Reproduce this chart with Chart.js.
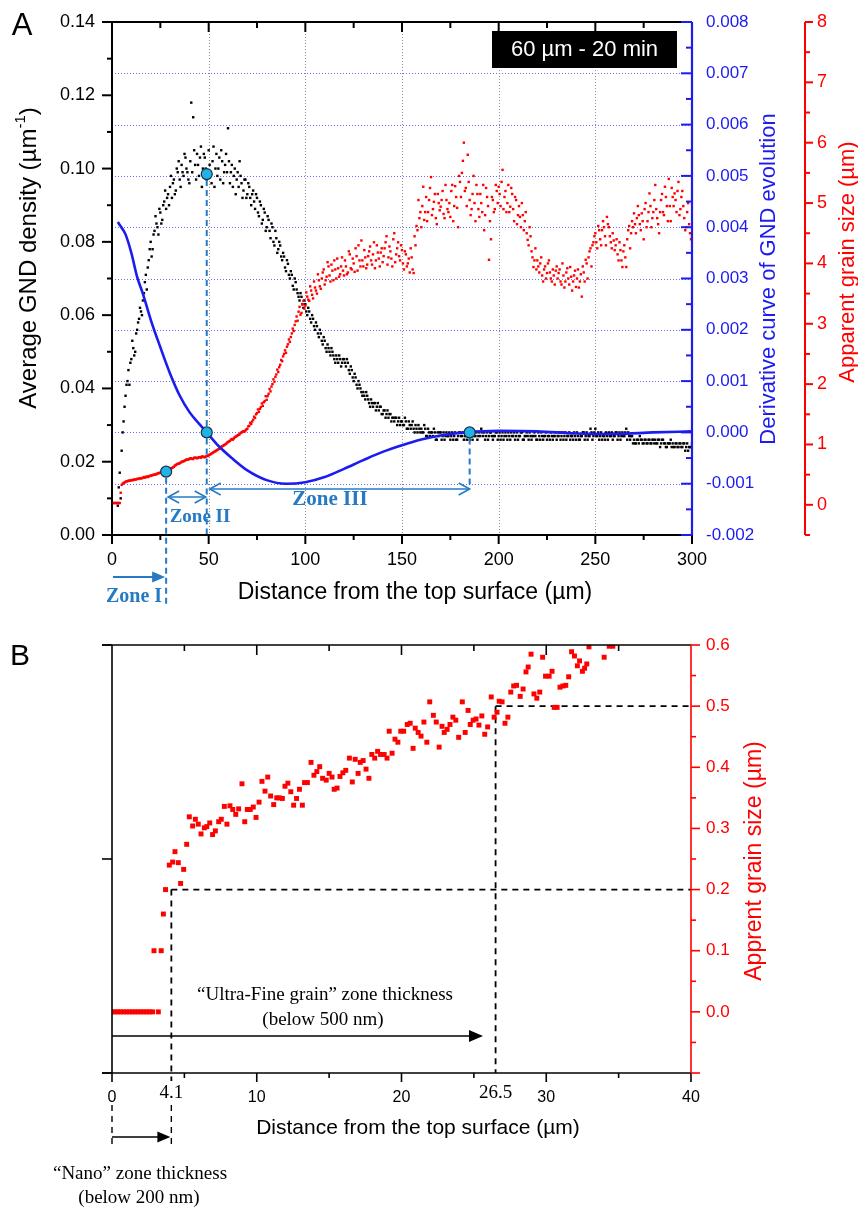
<!DOCTYPE html>
<html><head><meta charset="utf-8">
<script src="https://cdn.jsdelivr.net/npm/chart.js@4.4.1/dist/chart.umd.min.js"></script>
<style>
html,body{margin:0;padding:0;background:#fff;width:858px;height:1207px;overflow:hidden}
#wrap{position:relative;width:858px;height:1207px}
canvas{position:absolute;left:0}
#cA{top:0}
#cB{top:620px}
</style></head><body>
<div id="wrap"><canvas id="cA" width="858" height="620"></canvas><canvas id="cB" width="858" height="587"></canvas></div>
<script>
// ================= Panel A data =================
const distanceA = [0,1,2,3,4,5,6,7,8,9,10,11,12,13,14,15,16,17,18,19,20,21,22,23,24,25,26,27,28,29,30,31,32,33,34,35,36,37,38,39,40,41,42,43,44,45,46,47,48,49,50,51,52,53,54,55,56,57,58,59,60,61,62,63,64,65,66,67,68,69,70,71,72,73,74,75,76,77,78,79,80,81,82,83,84,85,86,87,88,89,90,91,92,93,94,95,96,97,98,99,100,101,102,103,104,105,106,107,108,109,110,111,112,113,114,115,116,117,118,119,120,121,122,123,124,125,126,127,128,129,130,131,132,133,134,135,136,137,138,139,140,141,142,143,144,145,146,147,148,149,150,151,152,153,154,155,156,157,158,159,160,161,162,163,164,165,166,167,168,169,170,171,172,173,174,175,176,177,178,179,180,181,182,183,184,185,186,187,188,189,190,191,192,193,194,195,196,197,198,199,200,201,202,203,204,205,206,207,208,209,210,211,212,213,214,215,216,217,218,219,220,221,222,223,224,225,226,227,228,229,230,231,232,233,234,235,236,237,238,239,240,241,242,243,244,245,246,247,248,249,250,251,252,253,254,255,256,257,258,259,260,261,262,263,264,265,266,267,268,269,270,271,272,273,274,275,276,277,278,279,280,281,282,283,284,285,286,287,288,289,290,291,292,293,294,295,296,297,298,299,300];
const distanceHalf = [0.5,1.5,2.5,3.5,4.5,5.5,6.5,7.5,8.5,9.5,10.5,11.5,12.5,13.5,14.5,15.5,16.5,17.5,18.5,19.5,20.5,21.5,22.5,23.5,24.5,25.5,26.5,27.5,28.5,29.5,30.5,31.5,32.5,33.5,34.5,35.5,36.5,37.5,38.5,39.5,40.5,41.5,42.5,43.5,44.5,45.5,46.5,47.5,48.5,49.5,50.5,51.5,52.5,53.5,54.5,55.5,56.5,57.5,58.5,59.5,60.5,61.5,62.5,63.5,64.5,65.5,66.5,67.5,68.5,69.5,70.5,71.5,72.5,73.5,74.5,75.5,76.5,77.5,78.5,79.5,80.5,81.5,82.5,83.5,84.5,85.5,86.5,87.5,88.5,89.5,90.5,91.5,92.5,93.5,94.5,95.5,96.5,97.5,98.5,99.5,100.5,101.5,102.5,103.5,104.5,105.5,106.5,107.5,108.5,109.5,110.5,111.5,112.5,113.5,114.5,115.5,116.5,117.5,118.5,119.5,120.5,121.5,122.5,123.5,124.5,125.5,126.5,127.5,128.5,129.5,130.5,131.5,132.5,133.5,134.5,135.5,136.5,137.5,138.5,139.5,140.5,141.5,142.5,143.5,144.5,145.5,146.5,147.5,148.5,149.5,150.5,151.5,152.5,153.5,154.5,155.5,156.5,157.5,158.5,159.5,160.5,161.5,162.5,163.5,164.5,165.5,166.5,167.5,168.5,169.5,170.5,171.5,172.5,173.5,174.5,175.5,176.5,177.5,178.5,179.5,180.5,181.5,182.5,183.5,184.5,185.5,186.5,187.5,188.5,189.5,190.5,191.5,192.5,193.5,194.5,195.5,196.5,197.5,198.5,199.5,200.5,201.5,202.5,203.5,204.5,205.5,206.5,207.5,208.5,209.5,210.5,211.5,212.5,213.5,214.5,215.5,216.5,217.5,218.5,219.5,220.5,221.5,222.5,223.5,224.5,225.5,226.5,227.5,228.5,229.5,230.5,231.5,232.5,233.5,234.5,235.5,236.5,237.5,238.5,239.5,240.5,241.5,242.5,243.5,244.5,245.5,246.5,247.5,248.5,249.5,250.5,251.5,252.5,253.5,254.5,255.5,256.5,257.5,258.5,259.5,260.5,261.5,262.5,263.5,264.5,265.5,266.5,267.5,268.5,269.5,270.5,271.5,272.5,273.5,274.5,275.5,276.5,277.5,278.5,279.5,280.5,281.5,282.5,283.5,284.5,285.5,286.5,287.5,288.5,289.5,290.5,291.5,292.5,293.5,294.5,295.5,296.5,297.5,298.5,299.5];

const gndDensity = [
null,null,null,0.008,0.017,0.023,0.031,0.038,0.042,0.041,
0.048,0.051,0.050,0.056,0.059,0.061,0.064,0.069,0.067,0.075,
0.080,0.078,0.083,0.085,0.082,0.088,0.086,0.091,0.089,0.093,
0.095,0.092,0.097,0.094,0.099,0.097,0.101,0.098,0.103,0.099,
0.096,0.118,0.114,0.101,0.104,0.098,0.106,0.100,0.103,0.097,
0.105,0.099,0.102,0.095,0.104,0.100,0.097,0.102,0.099,0.104,
0.111,0.096,0.101,0.098,0.093,0.099,0.102,0.096,0.094,0.097,
0.093,0.095,0.090,0.094,0.089,0.092,0.087,0.090,0.086,0.088,
0.084,0.086,0.081,0.084,0.079,0.081,0.078,0.079,0.075,0.076,
0.072,0.074,0.070,0.071,0.067,0.069,0.066,0.064,0.065,0.062,
0.063,0.060,0.061,0.058,0.059,0.056,0.057,0.054,0.055,0.052,
0.053,0.050,0.051,0.049,0.050,0.048,0.049,0.047,0.048,0.047,
0.048,0.046,0.047,0.044,0.045,0.042,0.043,0.040,0.041,0.039,
0.039,0.037,0.038,0.036,0.037,0.035,0.036,0.035,0.034,0.035,
0.033,0.034,0.033,0.032,0.033,0.032,0.031,0.032,0.031,0.030,
0.031,0.030,0.031,0.029,0.030,0.030,0.029,0.030,0.028,0.029,
0.029,0.028,0.029,0.027,0.028,0.028,0.027,0.028,0.026,0.027,
0.028,0.027,0.026,0.028,0.027,0.026,0.028,0.027,0.026,0.027,
0.028,0.027,0.026,0.027,0.028,0.026,0.027,0.028,0.027,0.026,
0.028,0.029,0.027,0.026,0.028,0.027,0.028,0.026,0.027,0.028,
0.027,0.026,0.028,0.027,0.027,0.028,0.026,0.027,0.028,0.027,
0.026,0.027,0.028,0.026,0.027,0.027,0.028,0.026,0.027,0.027,
0.026,0.027,0.028,0.026,0.027,0.026,0.027,0.028,0.026,0.027,
0.026,0.027,0.026,0.028,0.027,0.026,0.027,0.026,0.027,0.028,
0.026,0.027,0.026,0.027,0.028,0.027,0.026,0.027,0.028,0.027,
0.029,0.027,0.026,0.028,0.027,0.026,0.027,0.028,0.027,0.026,
0.027,0.028,0.027,0.026,0.028,0.027,0.029,0.028,0.026,0.027,
0.026,0.025,0.026,0.027,0.026,0.025,0.026,0.025,0.026,0.025,
0.026,0.026,0.025,0.026,0.025,0.026,0.025,0.024,0.025,0.026,
0.025,0.024,0.025,0.024,0.025,0.024,0.025,0.024,0.023,0.024,
0.025];

const gndDensityHalf = [
null,null,null,0.013,0.010,0.028,0.035,0.041,0.045,0.047,
0.053,0.049,0.055,0.058,0.062,0.060,0.066,0.071,0.073,0.078,
0.076,0.082,0.087,0.084,0.089,0.085,0.090,0.094,0.092,0.090,
0.098,0.096,0.093,0.100,0.102,0.095,0.099,0.104,0.100,0.097,
0.102,0.099,0.105,0.097,0.101,0.103,0.095,0.104,0.100,0.098,
0.101,0.096,0.106,0.100,0.098,0.103,0.105,0.096,0.101,0.099,
0.102,0.099,0.095,0.100,0.097,0.095,0.098,0.092,0.097,0.092,
0.096,0.092,0.093,0.091,0.093,0.088,0.091,0.085,0.089,0.083,
0.087,0.083,0.085,0.080,0.083,0.077,0.080,0.076,0.077,0.073,
0.075,0.071,0.072,0.068,0.070,0.067,0.065,0.066,0.063,0.064,
0.061,0.062,0.059,0.060,0.057,0.058,0.055,0.056,0.053,0.054,
0.051,0.052,0.050,0.051,0.049,0.047,0.048,0.049,0.046,0.048,
0.047,0.048,0.045,0.046,0.043,0.044,0.041,0.042,0.040,0.038,
0.038,0.039,0.037,0.035,0.036,0.036,0.034,0.036,0.035,0.033,
0.034,0.032,0.034,0.033,0.031,0.032,0.032,0.030,0.032,0.031,
0.030,0.032,0.029,0.031,0.029,0.031,0.028,0.029,0.030,0.028,
0.028,0.030,0.027,0.029,0.027,0.028,0.029,0.026,0.028,0.028,
0.026,0.028,0.027,0.027,0.028,0.027,0.026,0.028,0.026,0.028,
0.027,0.028,0.027,0.026,0.027,0.028,0.026,0.027,0.028,0.027,
0.027,0.028,0.028,0.027,0.026,0.028,0.027,0.027,0.028,0.026,
0.028,0.027,0.026,0.028,0.026,0.027,0.028,0.027,0.026,0.028,
0.027,0.028,0.026,0.027,0.028,0.026,0.027,0.027,0.028,0.026,
0.028,0.026,0.027,0.027,0.028,0.027,0.026,0.027,0.027,0.028,
0.027,0.028,0.027,0.026,0.028,0.027,0.028,0.027,0.026,0.027,
0.028,0.026,0.027,0.028,0.026,0.028,0.027,0.029,0.026,0.028,
0.027,0.028,0.027,0.026,0.027,0.028,0.026,0.027,0.028,0.027,
0.028,0.026,0.028,0.027,0.027,0.028,0.026,0.027,0.027,0.025,
0.025,0.026,0.025,0.026,0.025,0.026,0.025,0.026,0.025,0.026,
0.025,0.025,0.026,0.024,0.026,0.025,0.024,0.025,0.025,0.024,
0.024,0.025,0.024,0.025,0.024,0.025,0.023,0.025,0.024,0.024];

const grainSizeA = [
0.03,0.03,0.03,0.03,0.03,0.33,0.36,0.38,0.39,0.40,
0.41,0.41,0.42,0.43,0.43,0.44,0.45,0.45,0.47,0.47,
0.48,0.49,0.50,0.51,0.52,0.53,0.54,0.55,0.55,0.57,
0.59,0.61,0.63,0.66,0.68,0.69,0.71,0.72,0.74,0.75,
0.76,0.77,0.76,0.78,0.77,0.79,0.78,0.80,0.79,0.81,
0.82,0.84,0.86,0.88,0.90,0.92,0.94,0.97,0.99,1.01,
1.04,1.06,1.09,1.10,1.13,1.15,1.17,1.20,1.22,1.23,
1.26,1.31,1.34,1.41,1.44,1.52,1.54,1.62,1.64,1.72,
1.74,1.84,1.88,2.00,2.04,2.16,2.20,2.32,2.38,2.50,
2.52,2.66,2.70,2.84,2.88,3.04,3.05,3.28,3.18,3.38,
3.30,3.45,3.38,3.55,3.42,3.60,3.50,3.72,3.58,3.85,
3.65,3.78,3.95,3.70,3.88,4.05,3.75,3.92,3.82,4.10,
3.80,3.95,3.85,4.15,3.90,4.00,4.25,3.88,4.05,4.38,
3.95,4.10,3.98,4.20,4.05,4.15,3.92,4.30,4.08,4.18,
4.02,4.25,4.45,4.10,4.20,3.95,4.50,4.15,4.35,4.05,
4.22,3.90,4.15,4.00,3.85,4.10,3.84,4.30,4.55,4.75,
4.60,5.27,4.85,4.70,5.05,5.43,4.90,5.15,4.65,5.00,
4.94,5.20,4.75,5.05,4.85,4.77,5.30,4.95,5.10,4.60,
5.35,5.50,6.00,5.25,5.80,5.05,4.90,5.45,4.70,5.15,
4.77,5.00,5.30,4.80,5.10,4.06,4.40,5.05,4.90,5.20,
5.27,4.95,5.55,5.10,4.85,5.30,4.94,5.15,4.70,5.05,
4.80,4.77,5.00,4.55,4.85,4.39,4.60,4.20,3.94,4.25,
4.05,3.85,4.10,3.70,3.95,3.84,4.05,3.75,3.90,3.65,
3.95,3.84,3.70,4.00,3.60,3.85,3.75,3.94,3.55,3.80,
3.61,3.90,3.70,3.45,3.85,4.06,3.75,4.20,3.95,4.35,
4.50,4.25,4.55,4.30,4.70,4.45,4.77,4.60,4.35,4.50,
4.22,4.40,4.05,4.22,3.94,4.30,3.94,4.55,4.25,4.70,
4.83,4.50,4.95,4.65,4.83,4.40,5.00,4.70,5.16,4.60,
4.85,5.30,4.75,4.50,5.05,4.85,5.27,4.95,5.40,4.70,
5.10,5.16,4.85,5.35,4.90,5.20,4.75,4.60,5.00,4.50,
4.45];

const grainSizeHalf = [
0.03,0.03,0.03,0.03,0.20,0.35,0.37,0.39,0.40,0.40,
0.41,0.42,0.42,0.43,0.44,0.44,0.46,0.46,0.46,0.48,
0.49,0.50,0.50,0.52,0.53,0.54,0.54,0.56,0.56,0.58,
0.60,0.62,0.65,0.67,0.68,0.70,0.72,0.73,0.75,0.75,
0.77,0.76,0.78,0.78,0.78,0.79,0.80,0.79,0.80,0.81,
0.83,0.85,0.87,0.89,0.91,0.93,0.96,0.98,1.00,1.03,
1.05,1.08,1.08,1.12,1.14,1.16,1.19,1.21,1.21,1.25,
1.30,1.36,1.38,1.46,1.50,1.58,1.59,1.68,1.70,1.80,
1.80,1.92,1.96,2.08,2.12,2.24,2.28,2.40,2.46,2.56,
2.62,2.74,2.78,2.92,2.98,3.12,3.20,3.15,3.32,3.25,
3.52,3.40,3.62,3.48,3.70,3.55,3.82,3.62,3.75,3.90,
3.72,4.02,3.80,3.98,3.72,3.90,4.08,3.78,3.95,3.88,
4.05,3.82,4.20,3.92,4.08,3.86,4.12,4.30,3.95,4.05,
4.22,3.92,4.12,4.28,3.98,4.35,4.05,4.18,3.95,4.25,
4.12,4.35,3.98,4.28,4.08,4.40,4.02,4.25,4.12,4.30,
4.00,4.20,3.95,4.08,4.25,3.90,4.45,4.62,5.05,4.85,
4.95,4.72,5.10,4.85,5.25,4.80,5.02,4.75,5.15,4.88,
5.05,4.82,5.30,4.90,5.00,5.20,4.70,5.28,4.92,5.45,
5.10,5.70,5.20,4.95,5.35,4.80,5.15,5.00,5.30,4.90,
5.15,4.85,4.55,5.25,4.95,4.70,5.10,4.85,5.30,5.00,
5.15,5.35,4.90,5.20,5.00,4.85,5.25,4.90,5.10,4.65,
4.95,4.60,4.80,4.70,4.50,4.30,4.45,4.10,4.05,3.90,
3.95,4.00,3.80,3.90,3.75,4.00,3.85,3.70,3.80,3.88,
3.75,3.90,3.65,3.80,3.70,3.92,3.65,3.78,3.70,3.88,
3.75,3.60,3.82,3.95,3.70,4.00,4.10,4.25,4.30,4.45,
4.35,4.62,4.40,4.55,4.60,4.30,4.65,4.45,4.25,4.38,
4.30,4.15,4.35,4.05,4.20,4.10,4.40,4.62,4.50,4.60,
4.65,4.75,4.80,4.55,4.70,4.90,4.60,4.85,4.95,4.75,
5.05,4.90,4.65,4.85,5.15,4.80,5.10,4.70,4.95,5.25,
4.95,5.05,5.20,4.80,5.10,4.95,4.55,4.85,4.65,4.40];

const derivativeCurve = [[3,0.0041],[5,0.00399],[7,0.00386],[10,0.0035],[13,0.00303],[16,0.0027],[20,0.0022],[25,0.00166],[30,0.00115],[35,0.00072],[40,0.0004],[45,0.00017],[49,0.0],[55,-0.00026],[62,-0.0005],[70,-0.00074],[80,-0.00093],[90,-0.001],[100,-0.00097],[110,-0.00087],[120,-0.00071],[130,-0.00054],[140,-0.00038],[150,-0.00025],[160,-0.00014],[170,-0.00006],[183,0.0],[200,0.00003],[220,0.00002],[240,-0.00002],[260,-0.00003],[280,0.0],[300,0.00002]];

const keyPointsGnd = [[49,0.0985]];
const keyPointsGrain = [[28,0.55]];
const keyPointsDeriv = [[49,0.0],[185,0.0]];
const zoneBounds = [28,49,185];

const xTicksA = ['0','50','100','150','200','250','300'];
const gndTicks = ['0.00','0.02','0.04','0.06','0.08','0.10','0.12','0.14'];
const derivTicks = ['-0.002','-0.001','0.000','0.001','0.002','0.003','0.004','0.005','0.006','0.007','0.008'];
const grainTicksA = ['0','1','2','3','4','5','6','7','8'];

// ================= Panel B data =================
const grainB = [[0,0],[0.2,0],[0.4,0],[0.6,0],[0.8,0],[1.0,0],[1.2,0],[1.4,0],[1.6,0],[1.8,0],[2.0,0],[2.2,0],[2.4,0],[2.6,0],[2.8,0],[3.2,0],
[2.9,0.1],[3.4,0.1],[3.55,0.16],[3.7,0.2],[3.96,0.24],[4.19,0.245],[4.35,0.262],[4.58,0.244],[4.74,0.21],[4.95,0.233],
[5.16,0.274],[5.34,0.319],[5.57,0.304],[5.76,0.315],[5.96,0.307],[6.15,0.291],[6.38,0.301],[6.55,0.303],[6.75,0.309],[6.95,0.29],
[7.14,0.296],[7.37,0.311],[7.55,0.315],[7.76,0.336],[7.94,0.307],[8.15,0.337],[8.34,0.331],[8.55,0.323],[8.75,0.332],[8.98,0.373],
[9.17,0.311],[9.35,0.331],[9.55,0.331],[9.76,0.335],[9.95,0.318],[10.16,0.343],[10.36,0.377],[10.57,0.361],[10.76,0.384],[10.96,0.353],
[11.17,0.339],[11.38,0.35],[11.56,0.35],[11.77,0.349],[11.95,0.369],[12.15,0.374],[12.35,0.36],[12.55,0.338],[12.75,0.349],[12.95,0.364],
[13.15,0.338],[13.3,0.375],[13.5,0.375],[13.75,0.408],[13.95,0.387],[14.15,0.393],[14.35,0.401],[14.55,0.382],[14.8,0.379],[15.0,0.39],
[15.2,0.384],[15.35,0.364],[15.55,0.366],[15.75,0.385],[15.95,0.391],[16.15,0.395],[16.4,0.415],[16.6,0.376],[16.8,0.413],[17.0,0.39],
[17.15,0.408],[17.35,0.411],[17.55,0.397],[17.75,0.382],[17.95,0.421],[18.15,0.415],[18.35,0.426],[18.55,0.421],[18.8,0.421],[19.0,0.415],
[19.15,0.459],[19.35,0.423],[19.55,0.446],[19.75,0.441],[19.95,0.459],[20.15,0.459],[20.4,0.47],[20.6,0.472],[20.8,0.431],[20.95,0.464],
[21.15,0.457],[21.35,0.451],[21.55,0.474],[21.75,0.441],[21.95,0.507],[22.2,0.485],[22.4,0.474],[22.6,0.433],[22.8,0.467],[22.95,0.457],
[23.15,0.462],[23.35,0.47],[23.55,0.482],[23.75,0.477],[23.95,0.449],[24.2,0.507],[24.4,0.457],[24.6,0.493],[24.75,0.47],[24.95,0.477],
[25.15,0.479],[25.35,0.469],[25.55,0.484],[25.75,0.454],[25.95,0.466],[26.2,0.515],[26.4,0.482],[26.6,0.49],[26.75,0.508],[26.95,0.507],
[27.15,0.472],[27.35,0.482],[27.55,0.523],[27.75,0.533],[27.95,0.534],[28.2,0.516],[28.4,0.528],[28.6,0.556],[28.75,0.564],[28.95,0.585],
[29.15,0.52],[29.35,0.513],[29.55,0.523],[29.75,0.58],[29.95,0.549],[30.2,0.549],[30.4,0.557],[30.55,0.498],[30.75,0.498],[30.95,0.531],
[31.15,0.533],[31.35,0.534],[31.55,0.548],[31.75,0.589],[31.95,0.582],[32.15,0.566],[32.3,0.574],[32.5,0.557],[32.65,0.562],[32.8,0.569],
[32.95,0.597],[33.2,0.62],[33.4,0.63],[33.7,0.61],[34.0,0.58],[34.35,0.598],[34.6,0.598],[34.9,0.62],[35.2,0.64]];

const xTicksB = ['0','10','20','30','40'];
const xMarksB = ['4.1','26.5'];
const grainTicksB = ['0.0','0.1','0.2','0.3','0.4','0.5','0.6'];
const thresholdsB = [0.2,0.5];

// ================= helpers =================
const SANS = '"Liberation Sans", Arial, Helvetica, sans-serif';
const SERIF = '"Liberation Serif", "Times New Roman", serif';
const BLUE = 'rgb(28,28,240)';
const RED = 'rgb(255,0,0)';
const ZC = 'rgb(38,122,196)';

function seg(c,x1,y1,x2,y2,col,w,dash){c.save();c.beginPath();c.strokeStyle=col;c.lineWidth=w;c.setLineDash(dash||[]);c.moveTo(x1,y1);c.lineTo(x2,y2);c.stroke();c.restore();}
function txt(c,t,x,y,font,col,align,base){c.save();c.font=font;c.fillStyle=col;c.textAlign=align||'center';c.textBaseline=base||'middle';c.fillText(t,x,y);c.restore();}
function vtxt(c,parts,cx,cy,col){
  c.save();c.translate(cx,cy);c.rotate(-Math.PI/2);
  let tot=0;parts.forEach(p=>{c.font=p.f;p.w=c.measureText(p.t).width;tot+=p.w;});
  let x=-tot/2;c.fillStyle=col;c.textAlign='left';c.textBaseline='middle';
  parts.forEach(p=>{c.font=p.f;c.fillText(p.t,x,p.dy||0);x+=p.w;});
  c.restore();
}
function chev(c,x,y,dir,col){c.save();c.beginPath();c.strokeStyle=col;c.lineWidth=1.6;c.moveTo(x-dir*11,y-6);c.lineTo(x,y);c.lineTo(x-dir*11,y+6);c.stroke();c.restore();}
function head(c,x,y,col,len,hw){c.save();c.beginPath();c.fillStyle=col;c.moveTo(x,y);c.lineTo(x-len,y-hw);c.lineTo(x-len,y+hw);c.closePath();c.fill();c.restore();}
const near=(v,step)=>Math.abs(v/step-Math.round(v/step))<1e-6;

function fixed(w,h){return s=>{ if(w!=null) s.width=w; if(h!=null) s.height=h; };}
function hidden(extra){return Object.assign({ticks:{display:false},grid:{display:false},border:{display:false},title:{display:false}},extra);}

// ================= Panel A =================
const ptsGnd=[],ptsGrain=[];
function collect(xs,ys,out){xs.forEach((d,i)=>{ if(ys[i]!=null) out.push({x:d,y:ys[i]}); });}
collect(distanceA,gndDensity,ptsGnd);collect(distanceHalf,gndDensityHalf,ptsGnd);
collect(distanceA,grainSizeA,ptsGrain);collect(distanceHalf,grainSizeHalf,ptsGrain);
const toXY=a=>a.map(p=>({x:p[0],y:p[1]}));

const plugA={
  id:'plugA',
  beforeDatasetsDraw(chart){
    const c=chart.ctx,a=chart.chartArea,s=chart.scales;
    c.save();c.lineWidth=1;c.setLineDash([1,2]);
    c.strokeStyle='rgba(90,90,255,0.9)';
    derivTicks.forEach(t=>{const v=parseFloat(t);if(v<=s.yB.min||v>=s.yB.max)return;const y=Math.round(s.yB.getPixelForValue(v))+0.5;c.beginPath();c.moveTo(a.left,y);c.lineTo(a.right,y);c.stroke();});
    c.strokeStyle='rgba(130,130,130,0.9)';
    xTicksA.forEach(t=>{const v=+t;if(v<=s.x.min||v>=s.x.max)return;const x=Math.round(s.x.getPixelForValue(v))+0.5;c.beginPath();c.moveTo(x,a.top);c.lineTo(x,a.bottom);c.stroke();});
    c.restore();
  },
  afterDatasetsDraw(chart){
    const c=chart.ctx,a=chart.chartArea,s=chart.scales;
    const X=v=>s.x.getPixelForValue(v);
    const d=[6,4];
    const x1=X(zoneBounds[0]),x2=X(zoneBounds[1]),x3=X(zoneBounds[2]);
    seg(c,x1,s.yR.getPixelForValue(keyPointsGrain[0][1])+6,x1,a.bottom+70,ZC,2,d);
    seg(c,x2,s.yL.getPixelForValue(keyPointsGnd[0][1])+6,x2,s.yB.getPixelForValue(0)-6,ZC,2,d);
    seg(c,x2,s.yB.getPixelForValue(0)+6,x2,a.bottom,ZC,2,d);
    seg(c,x3,s.yB.getPixelForValue(0)+6,x3,a.bottom-50,ZC,2,d);
    [[keyPointsGrain,'yR'],[keyPointsGnd,'yL'],[keyPointsDeriv,'yB']].forEach(([arr,ax])=>{
      arr.forEach(p=>{c.save();c.beginPath();c.arc(X(p[0]),s[ax].getPixelForValue(p[1]),5.5,0,Math.PI*2);c.fillStyle='rgb(34,178,230)';c.fill();c.lineWidth=1.2;c.strokeStyle='#16324a';c.stroke();c.restore();});
    });
    const y2=a.bottom-38;
    seg(c,x1+2,y2,x2-1,y2,ZC,1.6);chev(c,x1+2,y2,-1,ZC);chev(c,x2-1,y2,1,ZC);
    const y3=a.bottom-46;
    seg(c,x2+3,y3,x3,y3,ZC,1.6);chev(c,x2+3,y3,-1,ZC);chev(c,x3,y3,1,ZC);
    const y1=a.bottom+42;
    seg(c,a.left+1,y1,x1-12,y1,ZC,2);head(c,x1-1,y1,ZC,13,5.5);
    txt(c,'Zone I',134,a.bottom+62,'bold 20px '+SERIF,ZC);
    txt(c,'Zone II',200,a.bottom-18,'bold 19px '+SERIF,ZC);
    txt(c,'Zone III',330,a.bottom-35,'bold 21px '+SERIF,ZC);
  },
  afterDraw(chart){
    const c=chart.ctx,a=chart.chartArea,s=chart.scales;
    const L=a.left,R=a.right,T=a.top,B=a.bottom;
    seg(c,L-10,T,R,T,'#000',2);
    seg(c,L-10,B,R,B,'#000',2);
    seg(c,L,T,L,B,'#000',2);
    s.x.ticks.forEach(tk=>{const v=tk.value,x=s.x.getPixelForValue(v),mj=near(v,50);seg(c,x,B,x,B+(mj?9:5),'#000',2);seg(c,x,T,x,T+(mj?10:6),'#000',2);});
    s.yL.ticks.forEach(tk=>{const v=tk.value,y=s.yL.getPixelForValue(v),mj=near(v,0.02);seg(c,L,y,L-(mj?10:5),y,'#000',2);});
    xTicksA.forEach(t=>txt(c,t,s.x.getPixelForValue(+t),B+25,'18px '+SANS,'#000'));
    gndTicks.forEach(t=>txt(c,t,L-17,s.yL.getPixelForValue(parseFloat(t)),'18px '+SANS,'#000','right'));
    seg(c,R,T,R,B,BLUE,2.2);
    s.yB.ticks.forEach(tk=>{const v=tk.value,y=s.yB.getPixelForValue(v),mj=near(v,0.001);seg(c,R,y,R-(mj?11:6),y,BLUE,2);});
    derivTicks.forEach(t=>txt(c,t,R+14,s.yB.getPixelForValue(parseFloat(t)),'17px '+SANS,BLUE,'left'));
    const RX=805;
    seg(c,RX,T,RX,B,RED,2);
    s.yR.ticks.forEach(tk=>{const v=tk.value,y=s.yR.getPixelForValue(v),mj=near(v,1);seg(c,RX,y,RX+(mj?8:5),y,RED,2);});
    grainTicksA.forEach(t=>txt(c,t,RX+12,s.yR.getPixelForValue(+t),'18px '+SANS,RED,'left'));
    txt(c,'Distance from the top surface (\u00b5m)',(L+R)/2+13,B+58,'23px '+SANS,'#000');
    vtxt(c,[{t:'Average GND density (\u00b5m',f:'24px '+SANS},{t:'-1',f:'15px '+SANS,dy:-8},{t:')',f:'24px '+SANS}],29,258,'#000');
    vtxt(c,[{t:'Derivative curve of GND evolution',f:'22px '+SANS}],769,279,BLUE);
    vtxt(c,[{t:'Apparent grain size (\u00b5m)',f:'22px '+SANS}],848,262,RED);
    txt(c,'A',22,26,'31px '+SANS,'#000');
    c.save();c.fillStyle='#000';c.fillRect(492,31,185,37);c.restore();
    txt(c,'60 \u00b5m - 20 min',584.5,50,'22px '+SANS,'#fff');
  }
};

new Chart(document.getElementById('cA'),{
  type:'scatter',
  data:{datasets:[
    {label:'Derivative',type:'line',data:toXY(derivativeCurve),xAxisID:'x',yAxisID:'yB',borderColor:BLUE,borderWidth:2.6,pointRadius:0,fill:false,cubicInterpolationMode:'monotone',order:1},
    {label:'Grain size',data:ptsGrain,xAxisID:'x',yAxisID:'yR',pointStyle:'rect',pointRadius:1.7,pointBorderWidth:0,backgroundColor:RED,borderColor:RED,order:2},
    {label:'GND',data:ptsGnd,xAxisID:'x',yAxisID:'yL',pointStyle:'rect',pointRadius:1.7,pointBorderWidth:0,backgroundColor:'#000',borderColor:'#000',order:3}
  ]},
  options:{
    responsive:false,animation:false,events:[],
    layout:{padding:0},
    plugins:{legend:{display:false},tooltip:{enabled:false}},
    scales:{
      x:hidden({type:'linear',position:'bottom',min:0,max:300,ticks:{display:false,stepSize:25},afterFit:fixed(null,85)}),
      xTop:hidden({type:'linear',position:'top',min:0,max:300,afterFit:fixed(null,22)}),
      yL:hidden({type:'linear',position:'left',min:0,max:0.14,ticks:{display:false,stepSize:0.01},afterFit:fixed(112,null)}),
      yB:hidden({type:'linear',position:'right',min:-0.002,max:0.008,ticks:{display:false,stepSize:0.0005},afterFit:fixed(110,null)}),
      yR:hidden({type:'linear',position:'right',min:-0.5,max:8,ticks:{display:false,stepSize:0.5},afterFit:fixed(56,null)})
    }
  },
  plugins:[plugA]
});

// ================= Panel B =================
const plugB={
  id:'plugB',
  beforeDatasetsDraw(chart){
    const c=chart.ctx,a=chart.chartArea,s=chart.scales;
    const X=v=>s.x.getPixelForValue(v),Y=v=>s.yR.getPixelForValue(v);
    const d=[6,5];
    const xa=X(parseFloat(xMarksB[0])),xb=X(parseFloat(xMarksB[1]));
    seg(c,xa,Y(thresholdsB[0]),a.right,Y(thresholdsB[0]),'#000',1.8,d);
    seg(c,xa,Y(thresholdsB[0]),xa,a.bottom+8,'#000',1.8,d);
    seg(c,xb,Y(thresholdsB[1]),a.right,Y(thresholdsB[1]),'#000',1.8,d);
    seg(c,xb,Y(thresholdsB[1]),xb,a.bottom,'#000',1.8,d);
  },
  afterDraw(chart){
    const c=chart.ctx,a=chart.chartArea,s=chart.scales;
    const L=a.left,R=a.right,T=a.top,B=a.bottom;
    const X=v=>s.x.getPixelForValue(v);
    seg(c,L-10,T,R,T,'#000',1.6);
    seg(c,L-10,B,R,B,'#000',1.6);
    seg(c,L,T,L,B+9,'#000',1.6);
    s.x.ticks.forEach(tk=>{const v=tk.value,x=X(v),mj=near(v,10);if(v>s.x.min)seg(c,x,B,x,B+(mj?9:5),'#000',1.6);if(v>s.x.min&&v<s.x.max)seg(c,x,T,x,T+(mj?10:6),'#000',1.6);});
    s.yL.ticks.forEach(tk=>{const y=s.yL.getPixelForValue(tk.value);seg(c,L,y,L-10,y,'#000',1.6);});
    xTicksB.forEach(t=>txt(c,t,X(+t),B+25,'16px '+SANS,'#000'));
    xMarksB.forEach(t=>txt(c,t,X(parseFloat(t)),B+20,'19px '+SERIF,'#000'));
    seg(c,R,T,R,B,RED,1.6);
    s.yR.ticks.forEach(tk=>{const v=tk.value,y=s.yR.getPixelForValue(v),mj=near(v,0.1);seg(c,R,y,R+(mj?9:5),y,RED,1.6);});
    grainTicksB.forEach(t=>txt(c,t,R+15,s.yR.getPixelForValue(parseFloat(t)),'17px '+SANS,RED,'left'));
    vtxt(c,[{t:'Apprent grain size (\u00b5m)',f:'23px '+SANS}],755,241,RED);
    txt(c,'Distance from the top surface (\u00b5m)',418,508,'21px '+SANS,'#000');
    txt(c,'B',20,37,'30px '+SANS,'#000');
    const xa=X(parseFloat(xMarksB[0]));
    const d=[6,5];
    seg(c,L,B+32,L,B+74,'#000',1.4,d);
    seg(c,xa,B+32,xa,B+74,'#000',1.4,d);
    seg(c,L,B+64,xa-12,B+64,'#000',1.6);head(c,xa-1,B+64,'#000',13,5.5);
    seg(c,L,B-37,470,B-37,'#000',1.6);head(c,483,B-37,'#000',14,6);
    txt(c,'\u201cUltra-Fine grain\u201d zone thickness',325,375,'19px '+SERIF,'#000');
    txt(c,'(below 500 nm)',323,400,'19px '+SERIF,'#000');
    txt(c,'\u201cNano\u201d zone thickness',140,554,'19px '+SERIF,'#000');
    txt(c,'(below 200 nm)',139,578,'19px '+SERIF,'#000');
  }
};

new Chart(document.getElementById('cB'),{
  type:'scatter',
  data:{datasets:[
    {label:'Grain size',data:toXY(grainB),xAxisID:'x',yAxisID:'yR',pointStyle:'rect',pointRadius:3.5,pointBorderWidth:0,backgroundColor:RED,borderColor:RED,clip:0}
  ]},
  options:{
    responsive:false,animation:false,events:[],
    layout:{padding:0},
    plugins:{legend:{display:false},tooltip:{enabled:false}},
    scales:{
      x:hidden({type:'linear',position:'bottom',min:0,max:40,ticks:{display:false,stepSize:5},afterFit:fixed(null,134)}),
      xTop:hidden({type:'linear',position:'top',min:0,max:40,afterFit:fixed(null,25)}),
      yL:hidden({type:'linear',position:'left',min:0,max:1,ticks:{display:false,stepSize:0.5},afterFit:fixed(112,null)}),
      yR:hidden({type:'linear',position:'right',min:-0.1,max:0.6,ticks:{display:false,stepSize:0.05},afterFit:fixed(167,null)})
    }
  },
  plugins:[plugB]
});
</script>
</body></html>
